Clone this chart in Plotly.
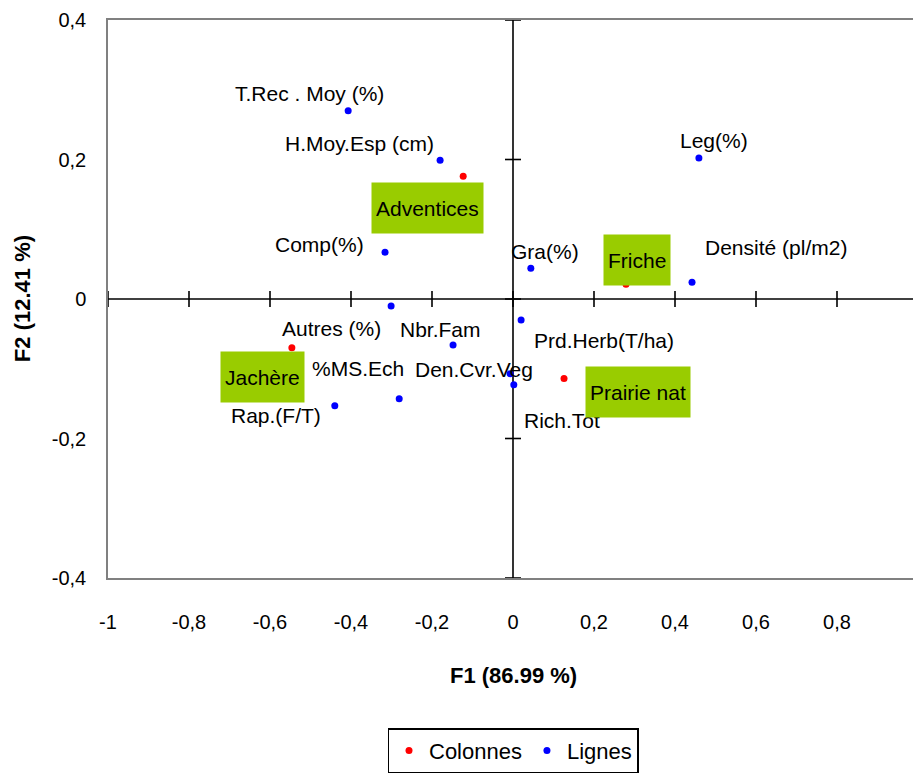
import plotly.graph_objects as go

# ---- data ----
col_names = ["Adventices", "Friche", "Jachère", "Prairie nat"]
col_f1 = [-0.123, 0.279, -0.546, 0.126]
col_f2 = [0.176, 0.021, -0.070, -0.114]

row_names = ["T.Rec . Moy (%)", "H.Moy.Esp (cm)", "Comp(%)", "Leg(%)", "Gra(%)",
             "Densité (pl/m2)", "Autres (%)", "Nbr.Fam", "%MS.Ech", "Den.Cvr.Veg",
             "Rap.(F/T)", "Rich.Tot", "Prd.Herb(T/ha)"]
row_f1 = [-0.407, -0.180, -0.316, 0.459, 0.044, 0.442, -0.301, -0.148, -0.281,
          -0.007, -0.440, 0.002, 0.020]
row_f2 = [0.270, 0.199, 0.067, 0.202, 0.044, 0.024, -0.010, -0.066, -0.143,
          -0.107, -0.153, -0.123, -0.030]

x_ticks = [-1, -0.8, -0.6, -0.4, -0.2, 0, 0.2, 0.4, 0.6, 0.8, 1]
x_tick_labels = ["-1", "-0,8", "-0,6", "-0,4", "-0,2", "0", "0,2", "0,4", "0,6", "0,8", "1"]
y_ticks = [-0.4, -0.2, 0, 0.2, 0.4]
y_tick_labels = ["-0,4", "-0,2", "0", "0,2", "0,4"]

# label offsets in pixels (style, not data)
row_label_shift = [(-39, 17), (-81, 17), (-66, 8), (15, 18), (14, 17), (84, 35),
                   (-60, -23), (-13, 16), (-41, 30), (-36, 4), (-59, -10), (48, -36), (83, -21)]
col_label_shift = [(-36, -32), (11, 24), (-29, -29), (74, -13)]

FONT = "Liberation Sans, Arial, sans-serif"

fig = go.Figure()
fig.add_trace(go.Scatter(x=col_f1, y=col_f2, mode="markers", name="Colonnes",
                         marker=dict(color="#FF0000", size=7), hoverinfo="text",
                         text=col_names))
fig.add_trace(go.Scatter(x=row_f1, y=row_f2, mode="markers", name="Lignes",
                         marker=dict(color="#0000FF", size=7), hoverinfo="text",
                         text=row_names))

annotations = []
for n, x, y, (dx, dy) in zip(row_names, row_f1, row_f2, row_label_shift):
    annotations.append(dict(x=x, y=y, text=n, showarrow=False, xshift=dx, yshift=dy,
                            font=dict(size=21, color="black", family=FONT)))
for n, x, y, (dx, dy) in zip(col_names, col_f1, col_f2, col_label_shift):
    annotations.append(dict(x=x, y=y, text=n, showarrow=False, xshift=dx, yshift=dy,
                            bgcolor="#99CC00", borderpad=4, height=42,
                            font=dict(size=21, color="black", family=FONT)))

annotations.append(dict(xref="paper", yref="paper", x=0.5, y=-0.174, xanchor="center",
                        yanchor="middle", text="<b>F1 (86.99 %)</b>",
                        showarrow=False, font=dict(size=22, color="black", family=FONT)))
annotations.append(dict(xref="paper", yref="paper", x=-0.106, y=0.5, xanchor="center",
                        yanchor="middle", text="<b>F2 (12.41 %)</b>",
                        textangle=-90, showarrow=False,
                        font=dict(size=22, color="black", family=FONT)))

shapes = [
    dict(type="line", x0=-1, x1=1, y0=0, y1=0, line=dict(color="black", width=1.6), layer="below"),
    dict(type="line", x0=0, x1=0, y0=-0.4, y1=0.4, line=dict(color="black", width=1.6), layer="below"),
]
for t in x_ticks:
    shapes.append(dict(type="line", xref="x", yref="y", x0=t, x1=t, ysizemode="pixel",
                       yanchor=0, y0=-8, y1=8, line=dict(color="black", width=1.6), layer="below"))
for t in y_ticks:
    shapes.append(dict(type="line", xref="x", yref="y", y0=t, y1=t, xsizemode="pixel",
                       xanchor=0, x0=-8, x1=8, line=dict(color="black", width=1.6), layer="below"))

fig.update_layout(
    width=921, height=777,
    margin=dict(l=100, r=11, t=12, b=207, autoexpand=False),
    plot_bgcolor="white", paper_bgcolor="white",
    font=dict(family=FONT, size=20, color="black"),
    xaxis=dict(range=[-1, 1], tickvals=x_ticks, ticktext=x_tick_labels, showgrid=False,
               zeroline=False, showline=True, linecolor="#808080", linewidth=1.5, mirror=True,
               ticks="", ticklabelstandoff=25, tickfont=dict(size=20), automargin=False,
               ticklabeloverflow="allow"),
    yaxis=dict(range=[-0.4, 0.4], tickvals=y_ticks, ticktext=y_tick_labels, showgrid=False,
               zeroline=False, showline=True, linecolor="#808080", linewidth=1.5, mirror=True,
               ticks="", ticklabelstandoff=16, tickfont=dict(size=20), automargin=False,
               ticklabeloverflow="allow"),
    showlegend=True,
    legend=dict(orientation="h", x=0.5, xanchor="center", y=-0.269, yanchor="top",
                bordercolor="black", borderwidth=1.5, bgcolor="white",
                font=dict(size=22, family=FONT), itemwidth=30),
    annotations=annotations,
    shapes=shapes,
)

fig.write_html("out.html")
